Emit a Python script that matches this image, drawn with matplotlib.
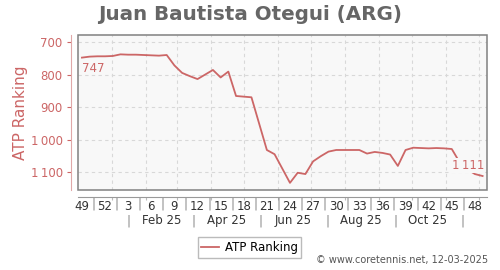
import matplotlib
matplotlib.use("Agg")
import matplotlib.pyplot as plt
import matplotlib.transforms as mtransforms
from matplotlib.patches import Rectangle
import pandas as pd

# ---- data ----
start_date = "2024-12-05"
ranking = [747, 744, 743, 743, 742, 737, 738, 738, 739, 740, 741, 739, 771,
           794, 804, 813, 799, 785, 808, 790, 865, 867, 869, 950, 1031, 1044,
           1088, 1132, 1101, 1105, 1066, 1050, 1036, 1031, 1031, 1031, 1031,
           1042, 1037, 1040, 1045, 1080, 1031, 1024, 1025, 1026, 1025, 1026,
           1028, 1068, 1090, 1105, 1111]
week_labels = ["49", "52", "3", "6", "9", "12", "15", "18", "21", "24", "27",
               "30", "33", "36", "39", "42", "45", "48"]
month_labels = ["Feb 25", "Apr 25", "Jun 25", "Aug 25", "Oct 25"]
y_ticks = [700, 800, 900, 1000, 1100]
title = "Juan Bautista Otegui (ARG)"
series_name = "ATP Ranking"
credit = "\u00a9 www.coretennis.net, 12-03-2025"

dates = pd.date_range(start_date, periods=len(ranking), freq="7D")

RED = "#cc6666"
GRAY = "#808080"

def fmt(v):
    return f"{v:,}".replace(",", "\u2009")

fig = plt.figure(figsize=(5, 2.7), dpi=100)
ax = fig.add_axes([78/500, 1-190/270, 409/500, 155/270])
ax.set_facecolor("#f8f8f8")

ax.plot(dates, ranking, color=RED, lw=1.3, label=series_name, zorder=3)

ax.set_xlim(pd.Timestamp("2024-12-01 10:00"), pd.Timestamp("2025-12-08 00:00"))
ax.set_ylim(1154, 677.5)

# y axis
ax.set_yticks(y_ticks)
ax.set_yticklabels([fmt(v) for v in y_ticks])
ax.tick_params(axis="y", colors=RED, labelsize=8.5, length=3, direction="out", pad=3)
ax.set_ylabel(series_name, color=RED, fontsize=11, labelpad=2)

# x axis: month gridlines (major), week labels (minor)
ax.xaxis.remove_overlapping_locs = False
month_starts = pd.date_range("2025-01-01", "2025-12-01", freq="MS")
ax.set_xticks(month_starts)
ax.set_xticklabels([])
ax.tick_params(axis="x", which="major", length=2, color="#bbbbbb")
week_pos = dates[::3][:len(week_labels)]
ax.set_xticks(week_pos, minor=True)
ax.set_xticklabels(week_labels, minor=True)
ax.tick_params(axis="x", which="minor", length=0, labelsize=8.5, labelcolor="#333333", pad=2)

ax.grid(True, which="major", color="#d8d8d8", ls=(0, (3, 3)), lw=0.8)

for s in ["top", "right"]:
    ax.spines[s].set_visible(False)
ax.spines["left"].set_position(("outward", 5))
ax.spines["left"].set_color("#e0a8a8")
ax.spines["bottom"].set_position(("outward", 5))
ax.spines["bottom"].set_color("#999999")

ax.add_patch(Rectangle((0, 0), 1, 1, transform=ax.transAxes, fill=False,
                       edgecolor=GRAY, lw=1.1, zorder=4, clip_on=False))

trans = mtransforms.blended_transform_factory(ax.transData, ax.transAxes)
# week separators
for a, b in zip(week_pos[:-1], week_pos[1:]):
    mid = a + (b - a) / 2
    ax.text(mid, -0.09, "|", transform=trans, ha="center", va="center",
            fontsize=8.5, color="#888888", clip_on=False)
# month labels and separators
for i, lab in enumerate(month_labels):
    m = pd.Timestamp(2025, 2 + 2 * i, 15)
    ax.text(m, -0.198, lab, transform=trans, ha="center", va="center",
            fontsize=8.5, color="#333333", clip_on=False)
for i in range(6):
    m = pd.Timestamp(2025, 1 + 2 * i, 16)
    ax.text(m, -0.198, "|", transform=trans, ha="center", va="center",
            fontsize=8.5, color="#888888", clip_on=False)

# value annotations
ax.annotate(fmt(ranking[0]), xy=(dates[0], ranking[0]), xytext=(0, -3),
            textcoords="offset points", ha="left", va="top", color=RED, fontsize=8.5)
ax.annotate(fmt(ranking[-1]), xy=(dates[-1], ranking[-1]), xytext=(1, 3),
            textcoords="offset points", ha="right", va="bottom", color=RED, fontsize=8.5,
            bbox=dict(boxstyle="square,pad=0.1", fc="#f8f8f8", ec="none"), zorder=5)

fig.text(0.5, 1-14/270, title, ha="center", va="center", fontsize=14.3,
         fontweight="bold", color="#666666")
fig.legend(loc="center", bbox_to_anchor=(249.5/500, 1-247.5/270), fontsize=8.5,
           frameon=True, fancybox=False, edgecolor="#aaaaaa", handlelength=1.5,
           borderpad=0.3, handletextpad=0.5)
fig.text(488/500, 1-260/270, credit, ha="right", va="center", fontsize=7, color="#555555")

fig.savefig("out.png", dpi=100)
